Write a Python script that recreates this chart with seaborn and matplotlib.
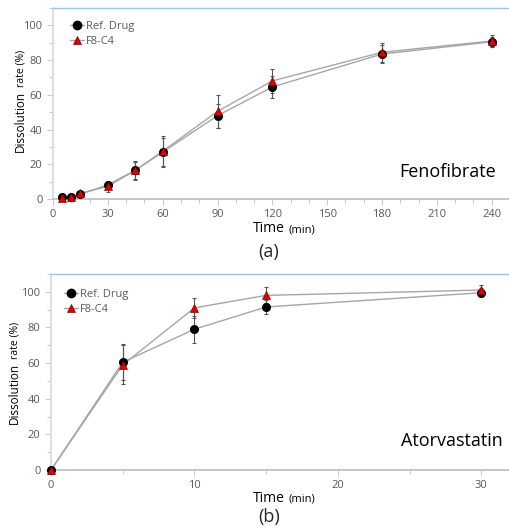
import numpy as np
import pandas as pd
import matplotlib
matplotlib.use("Agg")
import matplotlib.pyplot as plt
import seaborn as sns
from matplotlib.lines import Line2D
from matplotlib.ticker import MultipleLocator

sns.set_theme(style="white")
plt.rcParams['font.family'] = ['Open Sans', 'DejaVu Sans']

# Fenofibrate
feno_time = [5, 10, 15, 30, 45, 60, 90, 120, 180, 240]
feno_ref = [1.2, 1.3, 2.7, 8.2, 16.5, 27.0, 48.0, 64.5, 83.5, 90.5]
feno_ref_sd = [0.8, 0.8, 1.0, 1.5, 5.0, 8.0, 7.0, 6.5, 5.0, 3.0]
feno_f8 = [0.5, 1.0, 3.3, 7.3, 16.5, 27.5, 50.5, 68.0, 84.5, 91.0]
feno_f8_sd = [0.6, 0.8, 1.2, 3.0, 5.5, 9.0, 9.5, 7.0, 5.5, 3.5]

# Atorvastatin
ator_time = [0, 5, 10, 15, 30]
ator_ref = [0.0, 60.5, 79.0, 91.5, 99.5]
ator_ref_sd = [0.5, 10.0, 7.5, 4.0, 2.5]
ator_f8 = [0.0, 59.0, 91.0, 98.0, 101.0]
ator_f8_sd = [0.5, 11.0, 5.5, 4.5, 3.0]

series_names = ["Ref. Drug", "F8-C4"]

W, H = 510, 528
fig = plt.figure(figsize=(W / 100, H / 100), dpi=100)
ax1 = fig.add_axes([53 / W, 1 - 199 / H, 457 / W, 191 / H])
ax2 = fig.add_axes([51 / W, 1 - 470 / H, 459 / W, 196 / H])

GRAY_TXT = "#595959"
LINE = "#a6a6a6"


def panel(ax, t, ref, ref_sd, f8, f8_sd, xlim, xmaj, xmin, name, ms, leg_anchor, name_xy):
    df = pd.DataFrame({
        "time": list(t) * 2,
        "rate": list(ref) + list(f8),
        "series": [series_names[0]] * len(t) + [series_names[1]] * len(t),
    })
    sns.lineplot(data=df, x="time", y="rate", hue="series",
                 palette={series_names[0]: LINE, series_names[1]: LINE},
                 lw=1.0, ax=ax, legend=False, zorder=2)
    ax.errorbar(t, ref, yerr=ref_sd, fmt="none", ecolor="#555555", elinewidth=0.8,
                capsize=1.5, capthick=0.8, zorder=3)
    ax.errorbar(t, f8, yerr=f8_sd, fmt="none", ecolor="#555555", elinewidth=0.8,
                capsize=1.5, capthick=0.8, zorder=3)
    ax.plot(t, ref, ls="none", marker="o", ms=ms, mfc="black", mec="black", zorder=4,
            clip_on=False)
    ax.plot(t, f8, ls="none", marker="^", ms=ms, mfc="#e00000", mec="#800000",
            mew=0.5, zorder=5, clip_on=False)
    ax.set_xlim(*xlim)
    ax.set_ylim(0, 110)
    ax.xaxis.set_major_locator(MultipleLocator(xmaj))
    ax.xaxis.set_minor_locator(MultipleLocator(xmin))
    ax.yaxis.set_major_locator(MultipleLocator(20))
    ax.yaxis.set_minor_locator(MultipleLocator(10))
    ax.tick_params(axis="both", which="major", labelsize=8, labelcolor=GRAY_TXT,
                   length=4, width=0.6, color="#bfbfbf", direction="out")
    ax.tick_params(axis="both", which="minor", length=3, width=0.6, color="#bfbfbf",
                   direction="out")
    ax.tick_params(axis="x", which="both", bottom=True)
    ax.tick_params(axis="y", which="both", left=True)
    ax.spines["right"].set_visible(False)
    ax.spines["top"].set_color("#9dc3e6")
    ax.spines["top"].set_linewidth(1.0)
    ax.spines["left"].set_color("#d9d9d9")
    ax.spines["bottom"].set_color("#bfbfbf")
    ax.set_xlabel("")
    ax.set_ylabel("")
    ax.text(name_xy[0], name_xy[1], name, transform=ax.transAxes, ha="right", va="center",
            fontsize=13, color="black")
    handles = [
        Line2D([], [], color=LINE, lw=1, marker="o", ms=6, mfc="black", mec="black"),
        Line2D([], [], color=LINE, lw=1, marker="^", ms=6, mfc="#e00000", mec="#800000", mew=0.5),
    ]
    ax.legend(handles, series_names, loc="upper left", bbox_to_anchor=leg_anchor,
              frameon=False, fontsize=8, labelcolor=GRAY_TXT, handlelength=1.3,
              handletextpad=0.15, borderaxespad=0.0, borderpad=0.0, labelspacing=0.35)


panel(ax1, feno_time, feno_ref, feno_ref_sd, feno_f8, feno_f8_sd, (0, 250), 30, 10,
      "Fenofibrate", 5.5, (0.037, 0.93), (0.970, 0.141))
panel(ax2, ator_time, ator_ref, ator_ref_sd, ator_f8, ator_f8_sd, (0, 32), 10, 5,
      "Atorvastatin", 5.5, (0.028, 0.925), (0.985, 0.148))

# y labels with mixed size
for x_px, y_bottom in [(20, 152), (14, 424)]:
    t1 = fig.text(x_px / W, 1 - y_bottom / H, "Dissolution", rotation=90, ha="center",
                  va="bottom", fontsize=8.5, color="black")
    fig.text(0, 0, "")
    plt.annotate("rate (%)", xy=(0.5, 1.0), xycoords=t1, xytext=(0.6, 3),
                 textcoords="offset points", rotation=90, ha="center", va="bottom",
                 fontsize=7.5, color="black")

# x labels with mixed size
for y_px in [229, 498]:
    yf = 1 - y_px / H
    t2 = fig.text(0.558, yf, "Time", ha="right", va="center", fontsize=10, color="black")
    plt.annotate("(min)", xy=(1.0, 0.5), xycoords=t2, xytext=(3, -0.8),
                 textcoords="offset points", ha="left", va="center",
                 fontsize=8, color="black")
fig.text(0.527, 1 - 252 / H, "(a)", ha="center", va="center", fontsize=13)
fig.text(0.527, 1 - 517 / H, "(b)", ha="center", va="center", fontsize=13)

fig.savefig("out.png", dpi=100)
